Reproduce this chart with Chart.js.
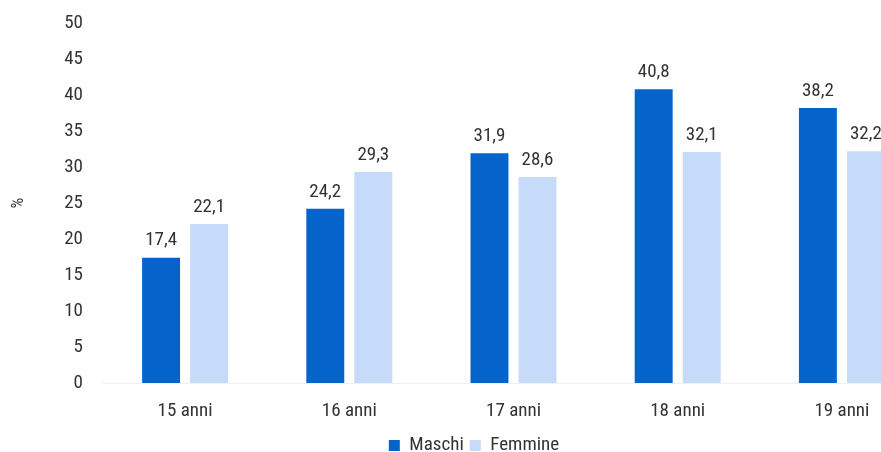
<!DOCTYPE html>
<html>
<head>
<meta charset="utf-8">
<script src="https://cdn.jsdelivr.net/npm/chart.js@4.4.1/dist/chart.umd.min.js"></script>
<style>
html,body{margin:0;padding:0;background:#fff;overflow:hidden;}
#wrap{position:relative;width:924px;height:452px;}
</style>
</head>
<body>
<div id="wrap"><canvas id="c"></canvas></div>
<script>
const categories = ["15 anni", "16 anni", "17 anni", "18 anni", "19 anni"];
const maschi = [17.4, 24.2, 31.9, 40.8, 38.2];
const femmine = [22.1, 29.3, 28.6, 32.1, 32.2];
const yTicks = [0, 5, 10, 15, 20, 25, 30, 35, 40, 45, 50];

const FONT = "'Liberation Sans Narrow', 'Roboto Condensed', 'Arial Narrow', Roboto, sans-serif";
const FS = 19;

const labelPlugin = {
  id: 'valueLabels',
  afterDatasetsDraw(chart) {
    const ctx = chart.ctx;
    ctx.save();
    ctx.font = FS + "px " + FONT;
    ctx.fillStyle = '#333333';
    ctx.textAlign = 'center';
    ctx.textBaseline = 'middle';
    chart.data.datasets.forEach((ds, i) => {
      chart.getDatasetMeta(i).data.forEach((bar, j) => {
        const txt = ds.data[j].toFixed(1).replace('.', ',');
        ctx.fillText(txt, bar.x, bar.y - 17);
      });
    });
    ctx.restore();
  }
};

new Chart(document.getElementById('c'), {
  type: 'bar',
  data: {
    labels: categories,
    datasets: [
      { label: 'Maschi', data: maschi, backgroundColor: '#0563CC', categoryPercentage: 0.585, barPercentage: 0.79 },
      { label: 'Femmine', data: femmine, backgroundColor: '#C6DBFA', categoryPercentage: 0.585, barPercentage: 0.79 }
    ]
  },
  options: {
    responsive: true,
    maintainAspectRatio: false,
    animation: false,
    layout: { padding: { top: 23, right: 0, bottom: -13, left: 24 } },
    plugins: {
      legend: {
        position: 'bottom',
        labels: {
          font: { size: FS, family: FONT },
          color: '#333333',
          boxWidth: 11,
          boxHeight: 11,
          padding: 6
        }
      },
      tooltip: { enabled: false }
    },
    scales: {
      x: {
        grid: { display: false, drawTicks: false },
        border: { display: true, color: '#f0f0f0' },
        ticks: { font: { size: FS, family: FONT }, color: '#333333', padding: 17 },
        afterFit(s) { s.height = 47; s.paddingLeft = 0; s.paddingRight = 0; }
      },
      y: {
        min: 0, max: 50,
        afterBuildTicks(s) { s.ticks = yTicks.map(v => ({ value: v })); },
        grid: { display: false, drawTicks: false },
        border: { display: false },
        ticks: { font: { size: FS, family: FONT }, color: '#333333', padding: 20 },
        title: { display: true, text: '%', font: { size: 17, family: FONT }, color: '#333333', padding: { top: -15, bottom: 0 } },
        afterFit(s) { s.width = 79; s.paddingTop = 0; s.paddingBottom = 0; }
      }
    }
  },
  plugins: [labelPlugin]
});
</script>
</body>
</html>
